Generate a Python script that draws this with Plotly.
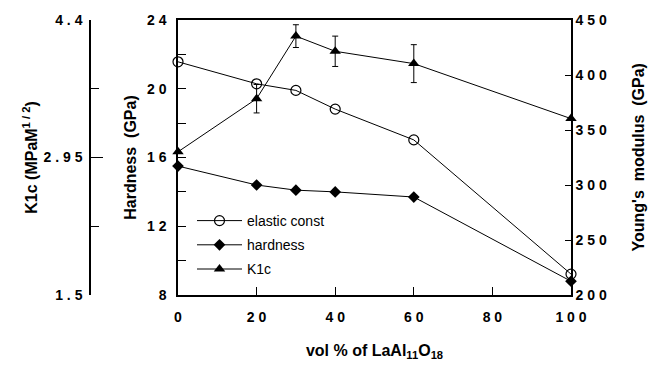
import plotly.graph_objects as go

vol_pct = [0, 20, 30, 40, 60, 100]
elastic_const = [412, 392, 386, 369, 341, 219]
hardness = [15.5, 14.4, 14.1, 14.0, 13.7, 8.8]
k1c = [3.01, 3.57, 4.23, 4.07, 3.94, 3.36]
k1c_err = [0, 0.15, 0.12, 0.16, 0.2, 0]

x_ticks = [0, 20, 40, 60, 80, 100]
x_ticktext = ["0", "2 0", "4 0", "6 0", "8 0", "1 0 0"]
h_ticks = [8, 12, 16, 20, 24]
h_ticktext = ["8", "1 2", "1 6", "2 0", "2 4"]
h_minor = [10, 14, 18, 22]
e_ticks = [200, 250, 300, 350, 400, 450]
e_ticktext = ["2 0 0", "2 5 0", "3 0 0", "3 5 0", "4 0 0", "4 5 0"]
k_ticks = [1.5, 2.95, 4.4]
k_ticktext = ["1 . 5", "2 . 9 5", "4 . 4"]
k_minor = [2.225, 3.675]

FONT = "Liberation Sans"
bold = dict(family=FONT, size=14, color="black", weight="bold")
title_font = dict(family=FONT, size=16, color="black", weight="bold")

fig = go.Figure()
fig.add_trace(go.Scatter(
    x=vol_pct, y=elastic_const, name="elastic const", yaxis="y2",
    mode="lines+markers", line=dict(color="black", width=1),
    marker=dict(symbol="circle-open", size=10, color="black", line=dict(width=1.2)),
    legendgroup="a", cliponaxis=False))
fig.add_trace(go.Scatter(
    x=vol_pct, y=hardness, name="hardness", yaxis="y",
    mode="lines+markers", line=dict(color="black", width=1),
    marker=dict(symbol="diamond", size=9, color="black"),
    legendgroup="b", cliponaxis=False))
fig.add_trace(go.Scatter(
    x=vol_pct, y=k1c, name="K1c", yaxis="y3",
    mode="lines+markers", line=dict(color="black", width=1),
    marker=dict(symbol="triangle-up", size=10, color="black"),
    error_y=dict(type="data", array=k1c_err, visible=True, color="black", thickness=1, width=3),
    legendgroup="c", cliponaxis=False))

L, R, T, B = 20, 77, 20, 76
W, H = 648, 371
pw = W - L - R
ph = H - T - B
x0 = (178 - L) / pw
kpos = (90 - L) / pw

axis_common = dict(showgrid=False, zeroline=False, showline=True, linecolor="black", linewidth=1.5,
                   tickcolor="black", tickfont=bold)

fig.update_layout(
    width=W, height=H, margin=dict(l=L, r=R, t=T, b=B),
    paper_bgcolor="white", plot_bgcolor="white",
    font=dict(family=FONT, color="black"),
    xaxis=dict(domain=[x0, 1], range=[0, 100], tickvals=x_ticks, ticktext=x_ticktext,
               ticks="inside", ticklen=8, mirror=True, ticklabelstandoff=8,
               title=dict(text="vol % of LaAl<sub>11</sub>O<sub>18</sub>", font=title_font, standoff=21),
               **axis_common),
    yaxis=dict(range=[8, 24], tickvals=h_ticks, ticktext=h_ticktext, ticks="inside", ticklen=8,
               minor=dict(tickvals=h_minor, ticks="inside", ticklen=8, tickcolor="black"),
               ticklabelstandoff=7,
               title=dict(text="Hardness  (GPa)", font=title_font, standoff=6),
               **axis_common),
    yaxis2=dict(range=[200, 450], tickvals=e_ticks, ticktext=e_ticktext, overlaying="y", side="right",
                anchor="x", ticks="inside", ticklen=6, ticklabelstandoff=0,
                **axis_common),
    yaxis3=dict(range=[1.5, 4.4], tickvals=k_ticks, ticktext=k_ticktext, overlaying="y", side="left",
                anchor="free", position=kpos, ticks="inside", ticklen=12, ticklabelstandoff=4,
                minor=dict(tickvals=k_minor, ticks="inside", ticklen=8, tickcolor="black"),
                title=dict(text="K1c (MPaM<sup>1 / 2</sup>)", font=title_font, standoff=1),
                **axis_common),
    annotations=[dict(text="Young's  modulus  (GPa)", xref="paper", yref="paper",
                      x=(638 - L) / pw, y=0.5, xanchor="center", yanchor="middle",
                      textangle=-90, showarrow=False, font=title_font)],
    showlegend=True,
    legend=dict(x=(192 - L) / pw, y=1 - (205 - T) / ph, xanchor="left", yanchor="top",
                bgcolor="rgba(0,0,0,0)", font=dict(family=FONT, size=14, color="black"),
                tracegroupgap=3, traceorder="grouped", itemwidth=45),
)

fig.write_html("out.html", config={"displayModeBar": False},
               post_script="document.body.style.margin='0';")
